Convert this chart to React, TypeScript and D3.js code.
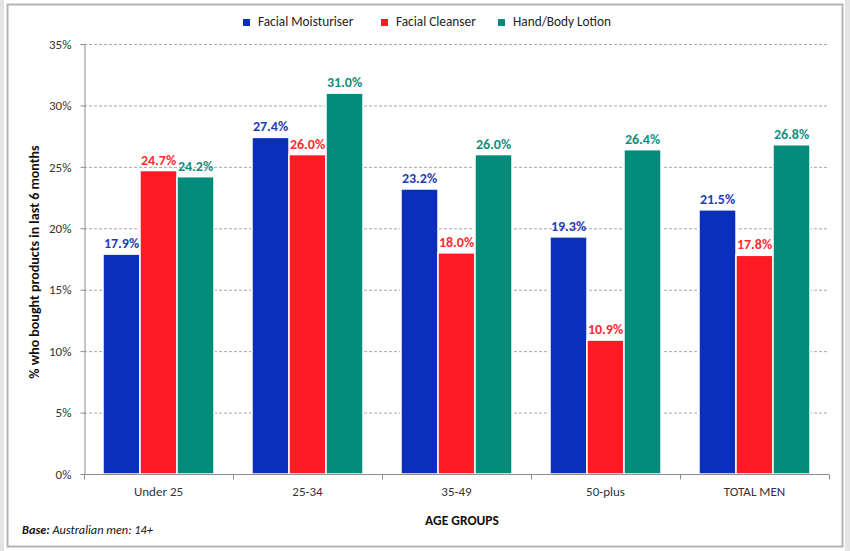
import React, { useRef, useEffect } from 'react';
import * as d3 from 'd3';

// Chart values
const categories = ['Under 25', '25-34', '35-49', '50-plus', 'TOTAL MEN'];
const seriesNames = ['Facial Moisturiser', 'Facial Cleanser', 'Hand/Body Lotion'];
const moisturiser = [17.9, 27.4, 23.2, 19.3, 21.5];
const cleanser = [24.7, 26.0, 18.0, 10.9, 17.8];
const lotion = [24.2, 31.0, 26.0, 26.4, 26.8];
const yTicks = [0, 5, 10, 15, 20, 25, 30, 35];

const BAR_COLORS = ['#0a2fbb', '#ff1a24', '#008b7a'];
const LABEL_COLORS = ['#1c3cb8', '#ff2a2e', '#118f7f'];
const FONT = 'Carlito, Calibri, Lato, "Open Sans", sans-serif';

const WIDTH = 850;
const HEIGHT = 551;

export default function App() {
  const svgRef = useRef<SVGSVGElement>(null);

  useEffect(() => {
    const svg = d3.select(svgRef.current);
    svg.selectAll('*').remove();

    const margin = { top: 44, right: 21, bottom: 77, left: 84 };
    const innerWidth = WIDTH - margin.left - margin.right;
    const innerHeight = HEIGHT - margin.top - margin.bottom;

    // Frame: light side strips and the grey panel border
    svg.append('rect').attr('x', 0).attr('y', 0).attr('width', 4).attr('height', HEIGHT).attr('fill', '#e4e4e4');
    svg.append('rect').attr('x', 845).attr('y', 0).attr('width', 5).attr('height', HEIGHT).attr('fill', '#e4e4e4');
    svg.append('rect')
      .attr('x', 7.5).attr('y', 4.5)
      .attr('width', 835).attr('height', 542)
      .attr('fill', '#fff')
      .attr('stroke', '#b4b4b4')
      .attr('stroke-width', 2);

    const g = svg.append('g').attr('transform', `translate(${margin.left},${margin.top})`);

    const xScale = d3.scaleBand().domain(categories).range([0, innerWidth]).padding(0);
    const groupPad = 19;
    const xInner = d3.scaleBand()
      .domain(seriesNames)
      .range([groupPad, xScale.bandwidth() - groupPad])
      .padding(0);
    const yScale = d3.scaleLinear().domain([0, 35]).range([innerHeight, 0]);

    // Gridlines
    g.append('g')
      .selectAll('line')
      .data(yTicks.filter(t => t > 0))
      .enter()
      .append('line')
      .attr('x1', 0)
      .attr('x2', innerWidth)
      .attr('y1', d => yScale(d) + 0.5)
      .attr('y2', d => yScale(d) + 0.5)
      .attr('stroke', '#a6a6a6')
      .attr('stroke-dasharray', '3,2');

    // Y axis
    const yAxis = d3.axisLeft(yScale)
      .tickValues(yTicks)
      .tickFormat(d => `${d}%`)
      .tickSize(4)
      .tickPadding(9)
      .tickSizeOuter(0);
    const yG = g.append('g').attr('transform', 'translate(0.5,0)').call(yAxis);
    yG.select('.domain').attr('stroke', '#8c8c8c');
    yG.selectAll('.tick line').attr('stroke', '#8c8c8c');
    yG.selectAll('text')
      .style('font-family', FONT)
      .style('font-size', '13px')
      .style('fill', '#333');

    // Series data
    const seriesValues = [moisturiser, cleanser, lotion];
    const rows = seriesNames.flatMap((name, si) =>
      categories.map((cat, ci) => ({ name, si, cat, value: seriesValues[si][ci] }))
    );

    g.selectAll('.bar')
      .data(rows)
      .enter()
      .append('rect')
      .attr('class', 'bar')
      .attr('x', d => xScale(d.cat)! + xInner(d.name)!)
      .attr('width', xInner.bandwidth())
      .attr('y', d => yScale(d.value))
      .attr('height', d => innerHeight - yScale(d.value))
      .attr('fill', d => BAR_COLORS[d.si])
      .attr('stroke', '#fff')
      .attr('stroke-width', 1.5);

    // Data labels
    g.selectAll('.label')
      .data(rows)
      .enter()
      .append('text')
      .attr('class', 'label')
      .attr('x', d => xScale(d.cat)! + xInner(d.name)! + xInner.bandwidth() / 2)
      .attr('y', d => yScale(d.value) - 6)
      .attr('text-anchor', 'middle')
      .style('font-family', FONT)
      .style('font-size', '14px')
      .style('font-weight', 'bold')
      .style('fill', d => LABEL_COLORS[d.si])
      .text(d => `${d.value.toFixed(1)}%`);

    // X axis
    const xG = g.append('g').attr('transform', `translate(0,${innerHeight + 0.5})`);
    xG.append('line')
      .attr('x1', 0).attr('x2', innerWidth)
      .attr('stroke', '#8c8c8c');
    xG.selectAll('.xtick')
      .data(d3.range(categories.length + 1))
      .enter()
      .append('line')
      .attr('x1', i => i * xScale.step() + 0.5)
      .attr('x2', i => i * xScale.step() + 0.5)
      .attr('y1', 0).attr('y2', 5)
      .attr('stroke', '#8c8c8c');
    xG.selectAll('.xlabel')
      .data(categories)
      .enter()
      .append('text')
      .attr('x', d => xScale(d)! + xScale.bandwidth() / 2)
      .attr('y', 21)
      .attr('text-anchor', 'middle')
      .style('font-family', FONT)
      .style('font-size', '13px')
      .style('fill', '#333')
      .text(d => d);

    // Axis titles
    g.append('text')
      .attr('transform', `translate(-45,${innerHeight / 2 + 3}) rotate(-90)`)
      .attr('text-anchor', 'middle')
      .style('font-family', FONT)
      .style('font-size', '14px')
      .style('font-weight', 'bold')
      .style('fill', '#111')
      .text('% who bought products in last 6 months');

    svg.append('text')
      .attr('x', 462)
      .attr('y', 525)
      .attr('text-anchor', 'middle')
      .style('font-family', FONT)
      .style('font-size', '13.5px')
      .style('font-weight', 'bold')
      .style('fill', '#111')
      .text('AGE GROUPS');

    // Base note
    const note = svg.append('text')
      .attr('x', 22)
      .attr('y', 534)
      .style('font-family', FONT)
      .style('font-size', '12.3px')
      .style('font-style', 'italic')
      .style('fill', '#111');
    note.append('tspan').style('font-weight', 'bold').text('Base:');
    note.append('tspan').text(' Australian men: 14+');

    // Legend
    const legendX = [243, 381, 498];
    const legend = svg.append('g');
    const items = legend.selectAll('.legend-item')
      .data(seriesNames)
      .enter()
      .append('g')
      .attr('class', 'legend-item')
      .attr('transform', (d, i) => `translate(${legendX[i]},19)`);
    items.append('rect')
      .attr('width', 7)
      .attr('height', 7)
      .attr('fill', (d, i) => BAR_COLORS[i]);
    items.append('text')
      .attr('x', 15)
      .attr('y', 7)
      .style('font-family', FONT)
      .style('font-size', '13.3px')
      .style('fill', '#222')
      .text(d => d);
  }, []);

  return (
    <svg
      ref={svgRef}
      width={WIDTH}
      height={HEIGHT}
      style={{ position: 'absolute', left: 0, top: 0, background: '#fff' }}
    />
  );
}
